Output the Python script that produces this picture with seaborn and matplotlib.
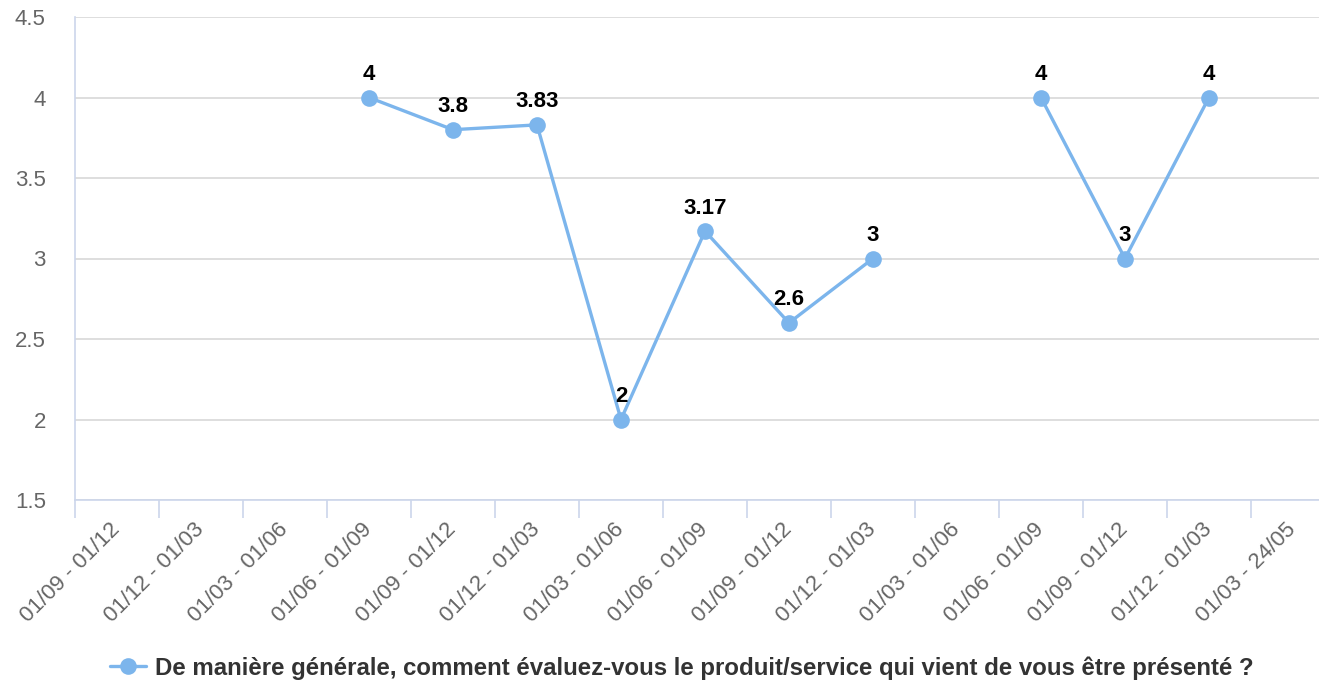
import matplotlib
matplotlib.use("Agg")
import matplotlib.pyplot as plt
from matplotlib.lines import Line2D
import seaborn as sns
import numpy as np
import pandas as pd

# periods shown on the x axis
categories = [
    "01/09 - 01/12", "01/12 - 01/03", "01/03 - 01/06", "01/06 - 01/09",
    "01/09 - 01/12", "01/12 - 01/03", "01/03 - 01/06", "01/06 - 01/09",
    "01/09 - 01/12", "01/12 - 01/03", "01/03 - 01/06", "01/06 - 01/09",
    "01/09 - 01/12", "01/12 - 01/03", "01/03 - 24/05",
]
scores = [None, None, None, 4, 3.8, 3.83, 2, 3.17, 2.6, 3, None, 4, 3, 4, None]
score_labels = ["", "", "", "4", "3.8", "3.83", "2", "3.17", "2.6", "3", "", "4", "3", "4", ""]
series_name = "De manière générale, comment évaluez-vous le produit/service qui vient de vous être présenté ?"
y_ticks = [1.5, 2, 2.5, 3, 3.5, 4, 4.5]

line_color = "#7cb5ec"

sns.set_style("white")
plt.rcParams["font.family"] = ["Liberation Sans", "DejaVu Sans"]

# split the series into runs so gaps stay gaps
df = pd.DataFrame({"pos": np.arange(len(categories)), "score": scores, "label": score_labels})
df["score"] = df["score"].astype(float)
df["segment"] = df["score"].isna().cumsum()
valid = df.dropna(subset=["score"])

fig = plt.figure(figsize=(13.19, 6.85), dpi=100)
ax = fig.add_axes([75 / 1319, 185 / 685, 1244 / 1319, 483 / 685])

sns.lineplot(data=valid, x="pos", y="score", units="segment", estimator=None,
             color=line_color, linewidth=2.4, marker="o", markersize=12,
             markeredgewidth=0, ax=ax, legend=False)

for _, row in valid.iterrows():
    ax.annotate(row["label"], (row["pos"], row["score"]), xytext=(0, 9),
                textcoords="offset points", ha="center", va="bottom",
                fontsize=16, fontweight="bold", color="black")

ax.set_ylim(1.5, 4.5)
ax.set_yticks(y_ticks)
ax.set_yticklabels([f"{t:g}" for t in y_ticks])
ax.set_xlim(-0.5, 14.31)
ax.set_xticks(df["pos"])
ax.set_xticklabels(categories, rotation=45, ha="right", va="center",
                   rotation_mode="anchor")
ax.set_xticks(np.arange(-0.5, len(categories) - 0.5, 1.0), minor=True)
ax.tick_params(axis="x", which="major", bottom=True, length=0, pad=19,
               labelsize=16, labelcolor="#666666")
ax.tick_params(axis="x", which="minor", bottom=True, direction="out", length=13,
               width=1.2, color="#ccd6eb")
ax.tick_params(axis="y", length=0, pad=21, labelsize=16, labelcolor="#666666")

ax.grid(axis="y", color="#d8d8d8", linewidth=1.2)
ax.set_axisbelow(True)
for side in ["top", "right"]:
    ax.spines[side].set_visible(False)
for side in ["left", "bottom"]:
    ax.spines[side].set_color("#ccd6eb")
    ax.spines[side].set_linewidth(1.2)
ax.set_xlabel("")
ax.set_ylabel("")

handle = Line2D([], [], color=line_color, linewidth=2.4, marker="o", markersize=12,
                markeredgewidth=0)
leg = fig.legend([handle], [series_name], loc="center", bbox_to_anchor=(0.517, 1 - 668 / 685),
                 frameon=False, handlelength=1.5, handletextpad=0.4,
                 prop={"size": 17.3, "weight": "bold"})
for t in leg.get_texts():
    t.set_color("#333333")

fig.savefig("out.png", dpi=100)
